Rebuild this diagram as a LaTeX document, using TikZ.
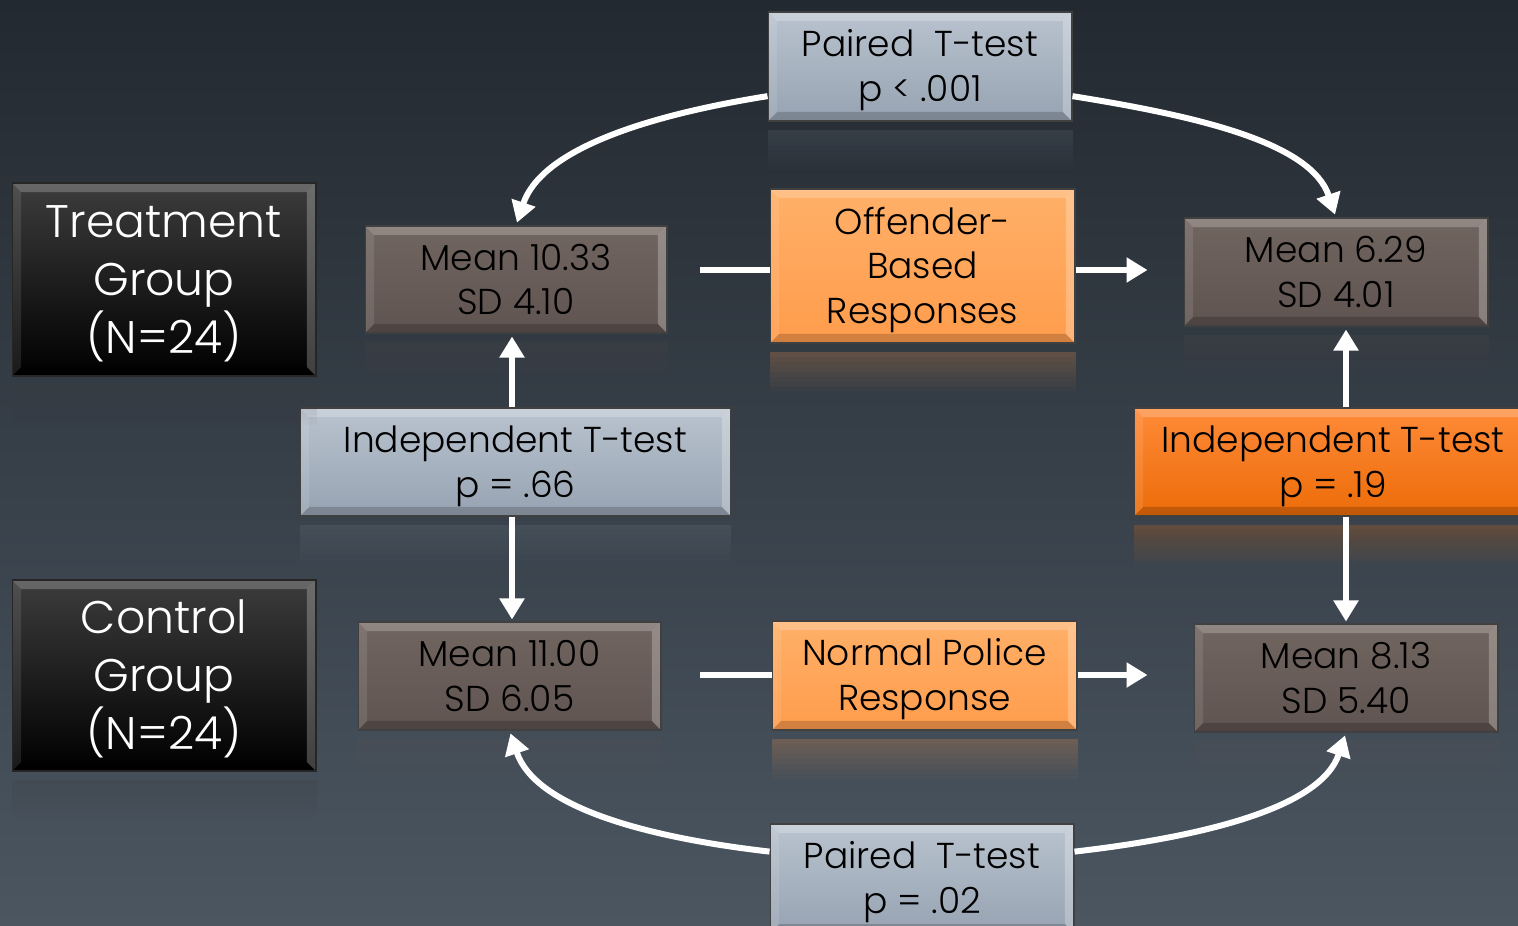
\documentclass[tikz,border=0pt]{standalone}
\usepackage{fontspec}
\setmainfont{Poppins Light}
\usetikzlibrary{arrows.meta,calc}
\definecolor{bgtop}{HTML}{232930}
\definecolor{bgbot}{HTML}{4B5661}
\definecolor{bluetop}{HTML}{B9C3CF}
\definecolor{bluebot}{HTML}{97A3B2}
\definecolor{browntop}{HTML}{716560}
\definecolor{brownbot}{HTML}{5F5450}
\definecolor{ortop}{HTML}{FFB068}
\definecolor{orbot}{HTML}{FF9C4C}
\definecolor{dortop}{HTML}{FF8A38}
\definecolor{dorbot}{HTML}{EC6C08}
\definecolor{grptop}{HTML}{3C3C3C}
\newcommand\boxrefl[3]{%
  \foreach \i in {0,...,7}{%
    \pgfmathsetmacro\ya{8+\i*5}%
    \pgfmathsetmacro\yb{8+(\i+1)*5}%
    \pgfmathsetmacro\op{#3*(1-\i/8)}%
    \fill[#2,opacity=\op] ($(#1.south west)+(0,\ya)$) rectangle ($(#1.south east)+(0,\yb)$);
  }}
\newcommand\tstrut{\rule{0pt}{0.97em}}
\newcommand\gstrut{\rule{0pt}{0.88em}}
\begin{document}
\begin{tikzpicture}[x=0.02cm,y=-0.02cm,
  bevel/.style={path picture={
    \path (path picture bounding box.north west) coordinate (pa)
          (path picture bounding box.south east) coordinate (pb)
          (path picture bounding box.north east) coordinate (pc)
          (path picture bounding box.south west) coordinate (pd);
    \path ([shift={(0.18cm,-0.18cm)}]pa) coordinate (ia)
          ([shift={(-0.18cm,0.18cm)}]pb) coordinate (ib)
          ([shift={(-0.18cm,-0.18cm)}]pc) coordinate (ic)
          ([shift={(0.18cm,0.18cm)}]pd) coordinate (id);
    \fill[white,opacity=0.22] (pa) -- (pc) -- (ic) -- (ia) -- cycle;
    \fill[white,opacity=0.25] (pc) -- (pb) -- (ib) -- (ic) -- cycle;
    \fill[black,opacity=0.18] (pb) -- (pd) -- (id) -- (ib) -- cycle;
    \fill[white,opacity=0.10] (pd) -- (pa) -- (ia) -- (id) -- cycle;
  }},
  box/.style={rectangle, inner sep=0pt, align=center, draw=black!75, line width=0.6pt,
    bevel, font=\fontsize{20.5}{25.5}\selectfont, text=black},
  bluebox/.style={box, top color=bluetop, bottom color=bluebot},
  brownbox/.style={box, top color=browntop, bottom color=brownbot},
  orbox/.style={box, top color=ortop, bottom color=orbot},
  dorbox/.style={box, top color=dortop, bottom color=dorbot},
  grpbox/.style={box, top color=grptop, middle color=black!95, bottom color=black,
    draw=black!85, text=white, font=\fontsize{26}{33}\selectfont},
  conn/.style={draw=white, line width=0.12cm},
  arr/.style={conn, -{Triangle[width=0.48cm,length=0.42cm]}}
]
\shade[top color=bgtop, bottom color=bgbot] (0,0) rectangle (1518,926);
\useasboundingbox (0,0) rectangle (1518,926);

% nodes
\node[grpbox, minimum width=6.08cm, minimum height=3.86cm] (treat) at (164,279.5) {\gstrut Treatment\\Group\\(N=24)};
\node[grpbox, minimum width=6.08cm, minimum height=3.82cm] (ctrl) at (164,675.5) {\gstrut Control\\Group\\(N=24)};
\node[bluebox, minimum width=6.08cm, minimum height=2.18cm] (ptop) at (920,66.5) {\tstrut Paired\ \ T-test\\p < .001};
\node[brownbox, minimum width=6.04cm, minimum height=2.14cm] (m1) at (516,279.5) {Mean 10.33\\SD 4.10};
\node[orbox, minimum width=6.10cm, minimum height=3.08cm] (off) at (922.5,266) {\tstrut Offender-\\Based\\Responses};
\node[brownbox, minimum width=6.08cm, minimum height=2.16cm] (m2) at (1336,272) {Mean 6.29\\SD 4.01};
\node[bluebox, minimum width=8.62cm, minimum height=2.16cm] (itl) at (515.5,462) {\tstrut Independent T-test\\p = .66};
\node[dorbox, minimum width=7.96cm, minimum height=2.16cm] (itr) at (1333,462) {\tstrut Independent T-test\\p = .19};
\node[brownbox, minimum width=6.06cm, minimum height=2.16cm] (m3) at (509.5,676) {Mean 11.00\\SD 6.05};
\node[orbox, minimum width=6.10cm, minimum height=2.18cm] (npr) at (924.5,675.5) {\tstrut Normal Police\\Response};
\node[brownbox, minimum width=6.08cm, minimum height=2.16cm] (m4) at (1346,678) {Mean 8.13\\SD 5.40};
\node[bluebox, minimum width=6.08cm, minimum height=2.18cm] (pbot) at (922,878.5) {\tstrut Paired\ \ T-test\\p = .02};

% reflections
\boxrefl{treat}{grptop}{0.22}
\boxrefl{ctrl}{grptop}{0.22}
\boxrefl{ptop}{bluebot}{0.12}
\boxrefl{m1}{brownbot}{0.15}
\boxrefl{off}{orbot}{0.22}
\boxrefl{m2}{brownbot}{0.15}
\boxrefl{itl}{bluebot}{0.12}
\boxrefl{itr}{dorbot}{0.22}
\boxrefl{m3}{brownbot}{0.15}
\boxrefl{npr}{orbot}{0.22}
\boxrefl{m4}{brownbot}{0.15}

% connectors
\coordinate (h1) at (700,270);
\coordinate (h2) at (700,675);
\draw[conn] (h1) -- (h1 -| off.west);
\draw[arr, shorten >=36*0.02cm] (h1 -| off.east) -- (h1 -| m2.west);
\draw[conn] (h2) -- (h2 -| npr.west);
\draw[arr, shorten >=46*0.02cm] (h2 -| npr.east) -- (h2 -| m4.west);

\draw[arr, shorten >=0.06cm] (ptop.191) .. controls +(-125,20) and +(25,-75) .. (m1.north);
\draw[arr, shorten >=0.06cm] (ptop.349) .. controls +(125,20) and +(-25,-75) .. (m2.north);
\draw[arr, shorten >=0.06cm] (pbot.170) .. controls +(-130,-15) and +(25,75) .. (m3.south);
\draw[arr, shorten >=0.06cm] (pbot.10) .. controls +(130,-15) and +(-25,75) .. (m4.south);

\draw[arr, shorten >=0.06cm] ([xshift=-0.07cm]itl.north) -- ([xshift=-0.07cm]itl.north |- m1.south);
\draw[arr, shorten >=0.04cm] ([xshift=-0.07cm]itl.south) -- ([xshift=-0.07cm]itl.south |- m3.north);
\draw[arr, shorten >=0.06cm] (m4.north |- itr.north) -- (m4.north |- m2.south);
\draw[arr, shorten >=0.04cm] (m4.north |- itr.south) -- (m4.north);
\end{tikzpicture}
\end{document}
